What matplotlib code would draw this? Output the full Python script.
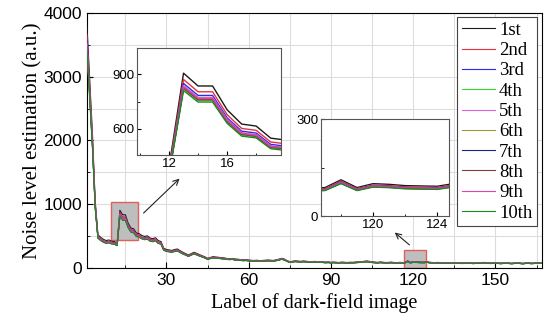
import matplotlib
matplotlib.use("Agg")
import matplotlib.pyplot as plt
from matplotlib.patches import Rectangle
from matplotlib.ticker import MultipleLocator
import numpy as np

labels = ["1st", "2nd", "3rd", "4th", "5th", "6th", "7th", "8th", "9th", "10th"]
colors = ["#1a1a1a", "#e8303a", "#2a2af0", "#30d830", "#e060e0",
          "#9a9a40", "#20208a", "#8a3a3a", "#e040b8", "#1a8a1a"]
# level of each repeat relative to the 1st one
scale = [1.0, 0.962, 0.938, 0.905, 0.925, 0.92, 0.915, 0.91, 0.918, 0.895]

frame = np.arange(1, 168)
noise_1st = [
    3800, 2950, 2100, 1050, 520, 480, 450, 430, 440, 420, 415, 390,
    905, 835, 835, 705, 627, 616, 550, 540,
    510, 495, 505, 470, 460, 475, 430, 415, 310, 290,
    282, 275, 290, 298, 270, 246, 225, 204, 225, 246,
    230, 210, 193, 175, 152, 165, 178, 172, 168, 162,
    158, 150, 146, 150, 141, 138, 132, 128, 130, 125,
    120, 118, 122, 115, 118, 120, 125, 122, 118, 128,
    138, 152, 140, 115, 99, 105, 112, 108, 104, 110,
    105, 100, 98, 104, 99, 101, 96, 92, 95, 89,
    93, 89, 87, 92, 89, 86, 90, 89, 93, 95,
    98, 104, 110, 104, 96, 92, 88, 94, 90, 86,
    88, 92, 86, 84, 88, 85,
    88, 112, 88, 100, 98, 94, 93, 92, 100,
    90, 86, 84, 88, 82, 85, 80, 83, 86, 81,
    84, 80, 78, 83, 86, 80, 77, 82, 79, 84,
    88, 82, 78, 80, 84, 79, 76, 80, 83, 78,
    75, 80, 84, 78, 74, 79, 82, 76, 78, 83, 80, 85,
]

sans = "Liberation Sans"
serif = "Liberation Serif"

fig = plt.figure(figsize=(5.45, 3.27), dpi=100)
ax = fig.add_axes([0.1596, 0.1804, 0.835, 0.78])

series = [np.array(noise_1st) * s for s in scale]
for y, c, lab in zip(series, colors, labels):
    ax.plot(frame, y, color=c, lw=0.8, label=lab, zorder=3)

ax.set_xlim(1, 167)
ax.set_ylim(0, 4000)
ax.xaxis.set_major_locator(MultipleLocator(30))
ax.xaxis.set_minor_locator(MultipleLocator(15))
ax.yaxis.set_major_locator(MultipleLocator(1000))
ax.yaxis.set_minor_locator(MultipleLocator(500))
ax.grid(True, which="both", color="#dcdcdc", lw=0.8, zorder=0)
ax.set_axisbelow(True)
ax.tick_params(which="both", direction="in", labelsize=12.5)
ax.tick_params(which="major", length=4)
ax.tick_params(which="minor", length=2.5)
for t in ax.get_xticklabels() + ax.get_yticklabels():
    t.set_fontfamily(sans)
ax.set_xlabel("Label of dark-field image", fontfamily=serif, fontsize=14.5, labelpad=4)
ax.set_ylabel("Noise level estimation (a.u.)", fontfamily=serif, fontsize=15, labelpad=1)

# zoom boxes
ax.add_patch(Rectangle((9.8, 440), 9.9, 590, facecolor="#bebebe", edgecolor="#e06060", lw=1, zorder=2))
ax.add_patch(Rectangle((116.75, 0), 8, 285, facecolor="#bebebe", edgecolor="#e06060", lw=1, zorder=2))
ax.annotate("", xy=(35.5, 1432), xytext=(20.9, 831),
            arrowprops=dict(arrowstyle="->", lw=0.8, color="#222222"))
ax.annotate("", xy=(112.5, 585), xytext=(119.4, 334),
            arrowprops=dict(arrowstyle="->", lw=0.8, color="#222222"))

leg = ax.legend(loc="upper right", bbox_to_anchor=(0.989, 0.984), borderaxespad=0,
                prop={"family": serif, "size": 13.5},
                frameon=True, fancybox=False, edgecolor="#444444", framealpha=1,
                handlelength=1.8, handletextpad=0.2, labelspacing=0.17, borderpad=0.25)
leg.get_frame().set_linewidth(0.8)

# inset 1
ax1 = fig.add_axes([0.2514, 0.526, 0.264, 0.327])
for y, c in zip(series, colors):
    ax1.plot(frame, y, color=c, lw=1.0)
ax1.set_xlim(9.8, 19.7)
ax1.set_ylim(458, 1042)
ax1.xaxis.set_major_locator(MultipleLocator(4))
ax1.xaxis.set_minor_locator(MultipleLocator(2))
ax1.yaxis.set_major_locator(MultipleLocator(300))
ax1.yaxis.set_minor_locator(MultipleLocator(150))

# inset 2
ax2 = fig.add_axes([0.589, 0.3394, 0.235, 0.2966])
for y, c in zip(series, colors):
    ax2.plot(frame, y, color=c, lw=1.0)
ax2.set_xlim(116.75, 124.75)
ax2.set_ylim(0, 300)
ax2.xaxis.set_major_locator(MultipleLocator(4))
ax2.xaxis.set_minor_locator(MultipleLocator(2))
ax2.yaxis.set_major_locator(MultipleLocator(300))
ax2.yaxis.set_minor_locator(MultipleLocator(150))

for a in (ax1, ax2):
    a.tick_params(which="both", direction="in", labelsize=9.5, pad=2)
    a.tick_params(which="major", length=3)
    a.tick_params(which="minor", length=1.8)
    for t in a.get_xticklabels() + a.get_yticklabels():
        t.set_fontfamily(sans)
    for sp in a.spines.values():
        sp.set_color("#555555")
        sp.set_linewidth(0.8)

fig.savefig("out.png", dpi=100)
